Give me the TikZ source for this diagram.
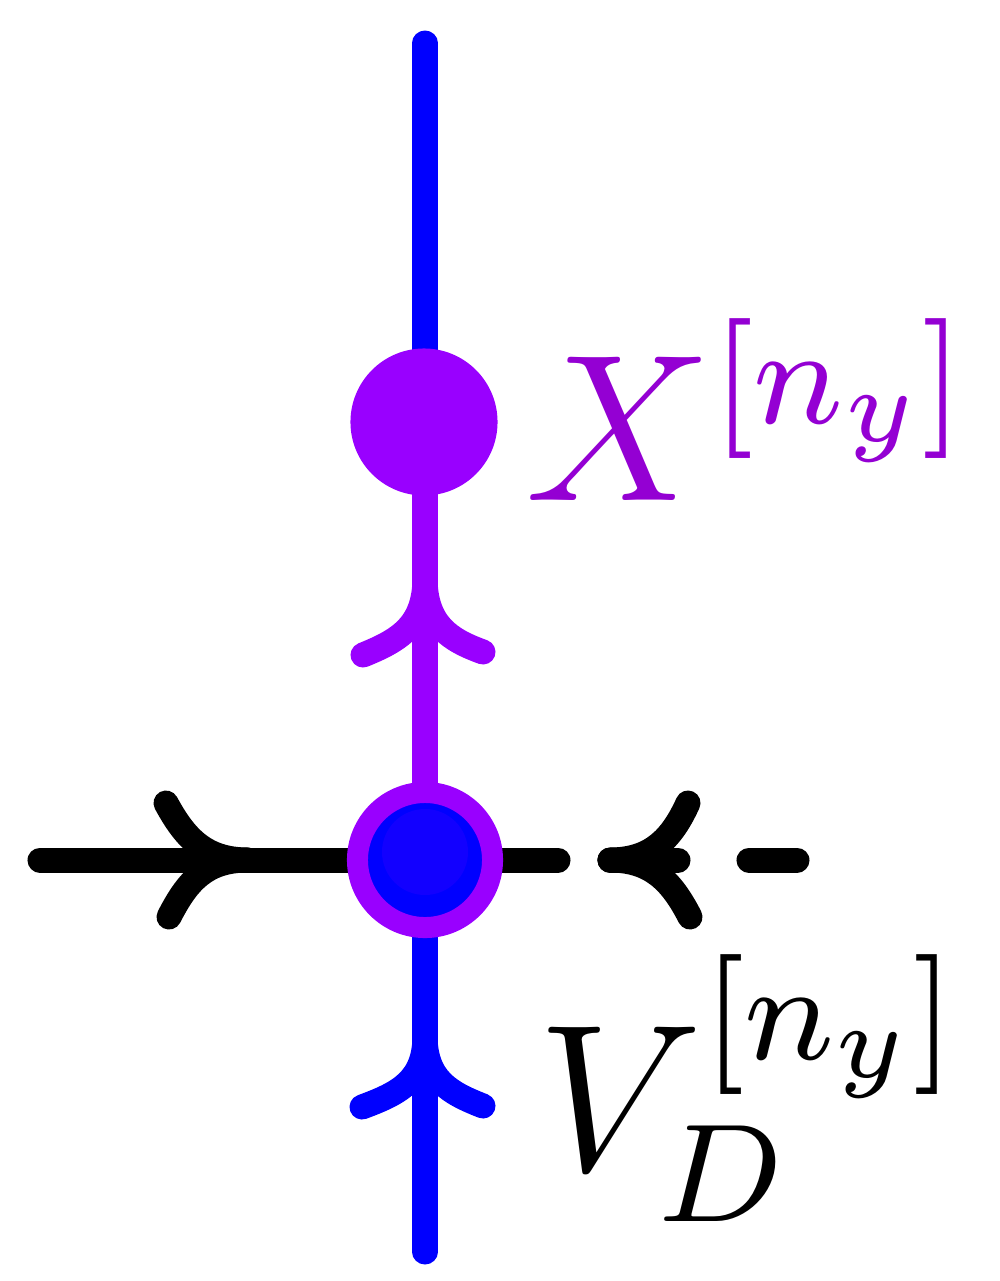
\documentclass[tikz,border=0pt]{standalone}
\usetikzlibrary{backgrounds}
\definecolor{vio}{RGB}{153,0,255}
\definecolor{viotext}{RGB}{148,0,211}
\definecolor{bl}{RGB}{0,0,255}
\definecolor{blhi}{RGB}{18,0,255}
\begin{document}
\begin{tikzpicture}[x=0.01cm,y=-0.01cm,
  wire/.style={line width=0.25cm,line cap=round,line join=round},
  bigdot/.style={circle,fill=vio,inner sep=0pt,minimum size=1.47cm},
  ringdot/.style={circle,fill=bl,draw=vio,line width=0.21cm,inner sep=0pt,minimum size=1.35cm},
  lab/.style={anchor=base west,inner sep=0pt,font=\fontsize{12}{14}\selectfont}]
\useasboundingbox (0,0) rectangle (1000,1281);
\node[bigdot] (X) at (424,422) {};
\node[ringdot] (V) at (425,860) {};
\fill[blhi] (425,852) circle[radius=43];
\coordinate (T) at (425,43);
\coordinate (B) at (425,1252);
\coordinate (L) at (40,860);
\coordinate (R) at (797,860);
\node[lab,text=viotext] (lx) at (525,500) {\scalebox{4.97}{$X^{[n_y]}$}};
\node[lab,text=black] (lv) at (537,1170) {\scalebox{4.97}{$V_D^{[n_y]}$}};
\begin{pgfonlayer}{background}
\fill[white] (0,0) rectangle (1000,1281);
% blue top wire
\draw[wire,bl] (T) -- (T|-X.center);
% purple wire with arrow
\draw[wire,vio] (V.center) -- (V.center|-X.center);
\draw[wire,vio] (425,577) .. controls (425,625) and (400,640) .. (363,655);
\draw[wire,vio] (425,577) .. controls (425,625) and (450,640) .. (483,652);
% blue bottom wire with arrow
\draw[wire,bl] (B) -- (V.center);
\draw[wire,bl] (425,1035) .. controls (425,1080) and (400,1093) .. (362,1107);
\draw[wire,bl] (425,1035) .. controls (425,1080) and (450,1093) .. (483,1106);
% black left wire with arrow
\draw[wire,black] (L) -- (V.center);
\draw[wire,black] (248,860) .. controls (205,860) and (185,838) .. (166,803);
\draw[wire,black] (248,860) .. controls (205,860) and (187,882) .. (169,917);
% dashed right wire with arrow
\draw[wire,black] (V.center) -- (558,860);
\draw[wire,black] (610,860) -- (678,860);
\draw[wire,black] (749,860) -- (R);
\draw[wire,black] (610,860) .. controls (652,860) and (672,838) .. (688,803);
\draw[wire,black] (610,860) .. controls (652,860) and (672,882) .. (690,917);
\end{pgfonlayer}
\end{tikzpicture}
\end{document}
